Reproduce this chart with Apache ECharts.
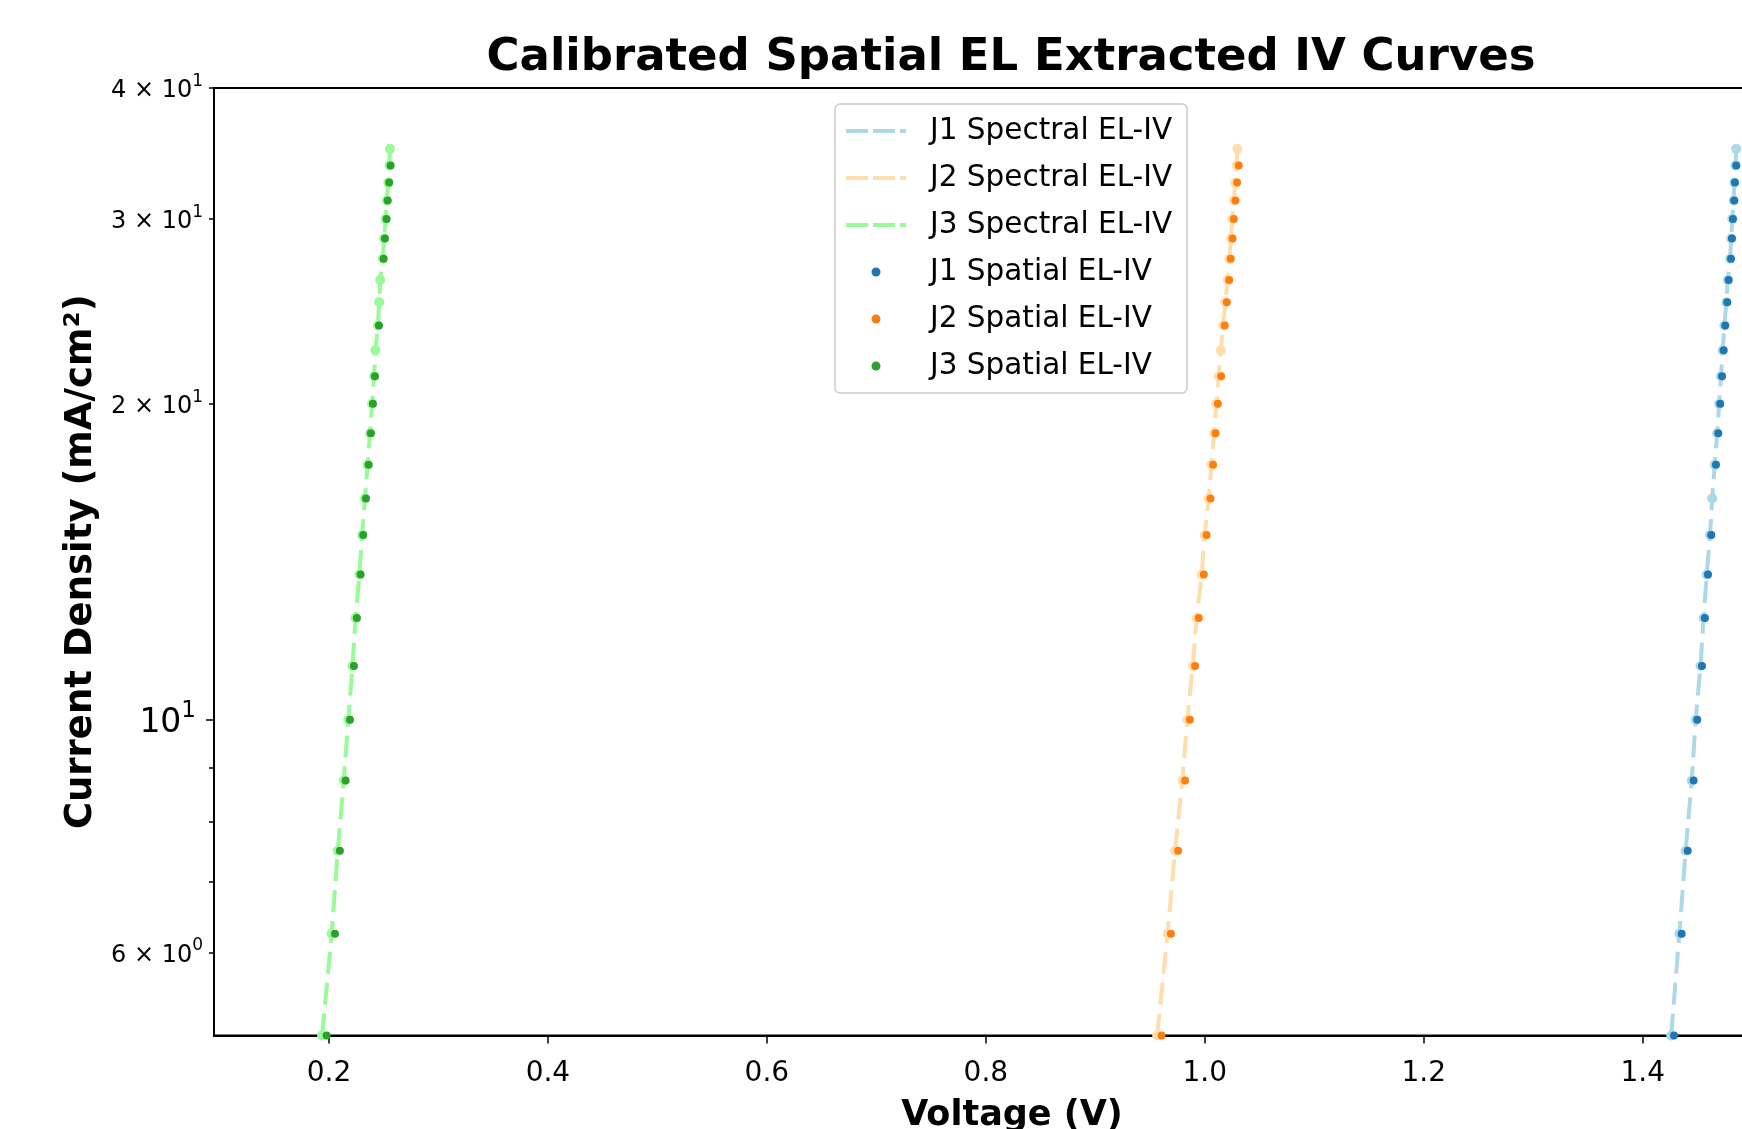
<!DOCTYPE html>
<html>
<head>
<meta charset="utf-8">
<script src="https://cdn.jsdelivr.net/npm/echarts@6/dist/echarts.min.js"></script>
<style>
html,body{margin:0;padding:0;background:#fff;}
#chart{width:1742px;height:1129px;}
</style>
</head>
<body>
<div id="chart"></div>
<script>
// Current density grid (mA/cm^2)
const jGrid = [5, 6.25, 7.5, 8.75, 10, 11.25, 12.5, 13.75, 15, 16.25, 17.5, 18.75, 20, 21.25, 22.5, 23.75, 25, 26.25, 27.5, 28.75, 30, 31.25, 32.5, 33.75, 35];

// Spectral EL-IV voltages (V)
const j1Spectral = [1.4260, 1.4335, 1.4392, 1.4448, 1.4484, 1.4528, 1.4556, 1.4585, 1.4615, 1.4635, 1.4658, 1.4680, 1.4698, 1.4715, 1.4730, 1.4746, 1.4764, 1.4778, 1.4798, 1.4808, 1.4818, 1.4830, 1.4837, 1.4848, 1.4854];
const j2Spectral = [0.9565, 0.9660, 0.9728, 0.9795, 0.9840, 0.9890, 0.9925, 0.9972, 0.9999, 1.0036, 1.0061, 1.0084, 1.0106, 1.0127, 1.0146, 1.0168, 1.0188, 1.0208, 1.0225, 1.0240, 1.0252, 1.0265, 1.0278, 1.0290, 1.0298];
const j3Spectral = [0.1937, 0.2025, 0.2080, 0.2135, 0.2177, 0.2215, 0.2243, 0.2278, 0.2303, 0.2329, 0.2353, 0.2375, 0.2394, 0.2412, 0.2424, 0.2447, 0.2459, 0.2468, 0.2492, 0.2504, 0.2518, 0.2529, 0.2542, 0.2553, 0.2557];

// Spatial EL-IV voltages (V), null = not shown
const j1Spatial = [1.4286, 1.4356, 1.4411, 1.4465, 1.4498, 1.4541, 1.4568, 1.4596, 1.4626, null, 1.4669, 1.4690, 1.4708, 1.4724, 1.4739, 1.4754, 1.4772, 1.4785, 1.4806, 1.4815, 1.4824, 1.4836, 1.4842, 1.4854, null];
const j2Spatial = [0.9605, 0.9690, 0.9756, 0.9820, 0.9863, 0.9911, 0.9945, 0.9991, 1.0016, 1.0052, 1.0076, 1.0098, 1.0119, 1.0149, null, 1.0182, 1.0201, 1.0222, 1.0237, 1.0253, 1.0265, 1.0280, 1.0295, 1.0310, null];
const j3Spatial = [0.1979, 0.2055, 0.2100, 0.2152, 0.2192, 0.2228, 0.2255, 0.2289, 0.2313, 0.2338, 0.2362, 0.2383, 0.2401, 0.2420, null, 0.2456, null, null, 0.2499, 0.2511, 0.2526, 0.2536, 0.2550, 0.2563, null];

// Tick labels
const xTicks = [0.2, 0.4, 0.6, 0.8, 1.0, 1.2, 1.4];
const yLabelTicks = [6, 10, 20, 30, 40];
const yMajorTicks = [10];
const yMinorTicks = [6, 7, 8, 9, 20, 30, 40];
const yLabelBase = {6: '6 × 10', 10: '10', 20: '2 × 10', 30: '3 × 10', 40: '4 × 10'};
const yLabelExp = {6: '0', 10: '1', 20: '1', 30: '1', 40: '1'};

const FONT = 'DejaVu Sans';

function pairs(vs) {
  const out = [];
  for (let i = 0; i < jGrid.length; i++) {
    if (vs[i] !== null) out.push([vs[i], jGrid[i]]);
  }
  return out;
}

const lightColors = ['#add8e6', '#ffdead', '#98fb98'];
const darkColors = ['#1f77b4', '#ff7f0e', '#2ca02c'];
const spectral = [j1Spectral, j2Spectral, j3Spectral];
const spatial = [j1Spatial, j2Spatial, j3Spatial];
const names = ['J1', 'J2', 'J3'];
const DASH_ICON = 'path://M0 0H22V4H0Z M27 0H49V4H27Z M54 0H60V4H54Z';

const series = [];
const legendData = [];
for (let k = 0; k < 3; k++) {
  series.push({
    name: names[k] + ' Spectral EL-IV',
    type: 'line',
    data: pairs(spectral[k]),
    showSymbol: false,
    symbol: 'none',
    lineStyle: {color: lightColors[k], width: 4, type: [22, 9]},
    itemStyle: {color: lightColors[k]},
    z: 2,
    animation: false
  });
  legendData.push({name: names[k] + ' Spectral EL-IV', icon: DASH_ICON, itemStyle: {color: lightColors[k], borderWidth: 0}});
}
for (let k = 0; k < 3; k++) {
  series.push({
    name: names[k] + ' Spectral markers',
    type: 'scatter',
    data: pairs(spectral[k]),
    symbolSize: 10,
    itemStyle: {color: lightColors[k], opacity: 1},
    z: 3,
    animation: false
  });
}
for (let k = 0; k < 3; k++) {
  series.push({
    name: names[k] + ' Spatial EL-IV',
    type: 'scatter',
    data: pairs(spatial[k]),
    symbolSize: 8,
    itemStyle: {color: darkColors[k], opacity: 1},
    z: 4,
    animation: false
  });
  legendData.push({name: names[k] + ' Spatial EL-IV', icon: 'circle', itemStyle: {color: darkColors[k], borderWidth: 0, opacity: 1}});
}

const chart = echarts.init(document.getElementById('chart'), null, {renderer: 'canvas'});
chart.setOption({
  backgroundColor: '#fff',
  animation: false,
  graphic: [{
    type: 'text',
    x: 1011, y: 58,
    style: {
      text: 'Calibrated Spatial EL Extracted IV Curves',
      font: 'bold 45px "DejaVu Sans"',
      fill: '#000',
      textAlign: 'center',
      textVerticalAlign: 'middle'
    }
  }],
  grid: {
    left: 214, top: 88, width: 1596, height: 947.5,
    outerBoundsMode: 'none',
    containLabel: false,
    show: true, borderColor: '#000', borderWidth: 2, backgroundColor: 'transparent'
  },
  legend: {
    orient: 'vertical',
    left: 835, top: 104,
    data: legendData,
    itemWidth: 60, itemHeight: 9, itemGap: 13,
    padding: [10, 15, 10, 11],
    backgroundColor: 'rgba(255,255,255,0.8)',
    borderColor: '#cccccc', borderWidth: 1.5, borderRadius: 5,
    textStyle: {fontFamily: FONT, fontSize: 29.5, color: '#000', lineHeight: 34, padding: [0, 0, 0, 19]}
  },
  xAxis: {
    type: 'value',
    min: 0.095, max: 1.5528,
    name: 'Voltage (V)',
    nameLocation: 'middle',
    nameGap: 63,
    nameTextStyle: {fontFamily: FONT, fontSize: 35, fontWeight: 'bold', color: '#000'},
    splitLine: {show: false},
    axisLine: {show: true, lineStyle: {color: '#000', width: 2}},
    axisTick: {show: true, length: 8, lineStyle: {color: '#000', width: 1.5}, customValues: xTicks},
    axisLabel: {
      fontFamily: FONT, fontSize: 28, color: '#000', margin: 24,
      customValues: xTicks,
      formatter: v => v.toFixed(1)
    }
  },
  yAxis: [{
    type: 'log',
    min: 5, max: 40,
    name: 'Current Density (mA/cm²)',
    nameLocation: 'middle',
    nameRotate: 90,
    nameGap: 113,
    nameTextStyle: {fontFamily: FONT, fontSize: 37, fontWeight: 'bold', color: '#000'},
    splitLine: {show: false},
    axisLine: {show: true, lineStyle: {color: '#000', width: 2}},
    axisTick: {show: true, length: 8, lineStyle: {color: '#000', width: 1.5}, customValues: yMajorTicks},
    axisLabel: {
      margin: 11,
      customValues: yLabelTicks,
      formatter: function (v) {
        const r = Math.round(v);
        if (r === 10) return '{M|' + yLabelBase[r] + '}{S|' + yLabelExp[r] + '}';
        return '{m|' + yLabelBase[r] + '}{s|' + yLabelExp[r] + '}';
      },
      rich: {
        m: {fontFamily: FONT, fontSize: 24, color: '#000', lineHeight: 30, verticalAlign: 'bottom'},
        s: {fontFamily: FONT, fontSize: 17, color: '#000', lineHeight: 18, verticalAlign: 'top'},
        M: {fontFamily: FONT, fontSize: 33, color: '#000', lineHeight: 40, verticalAlign: 'bottom'},
        S: {fontFamily: FONT, fontSize: 23, color: '#000', lineHeight: 24, verticalAlign: 'top', padding: [0, 7, 0, 0]}
      }
    }
  }, {
    type: 'log',
    min: 5, max: 40,
    position: 'left',
    splitLine: {show: false},
    axisLine: {show: false},
    axisLabel: {show: false},
    axisTick: {show: true, length: 5, lineStyle: {color: '#000', width: 1.5}, customValues: yMinorTicks}
  }],
  series: series
});
</script>
</body>
</html>
